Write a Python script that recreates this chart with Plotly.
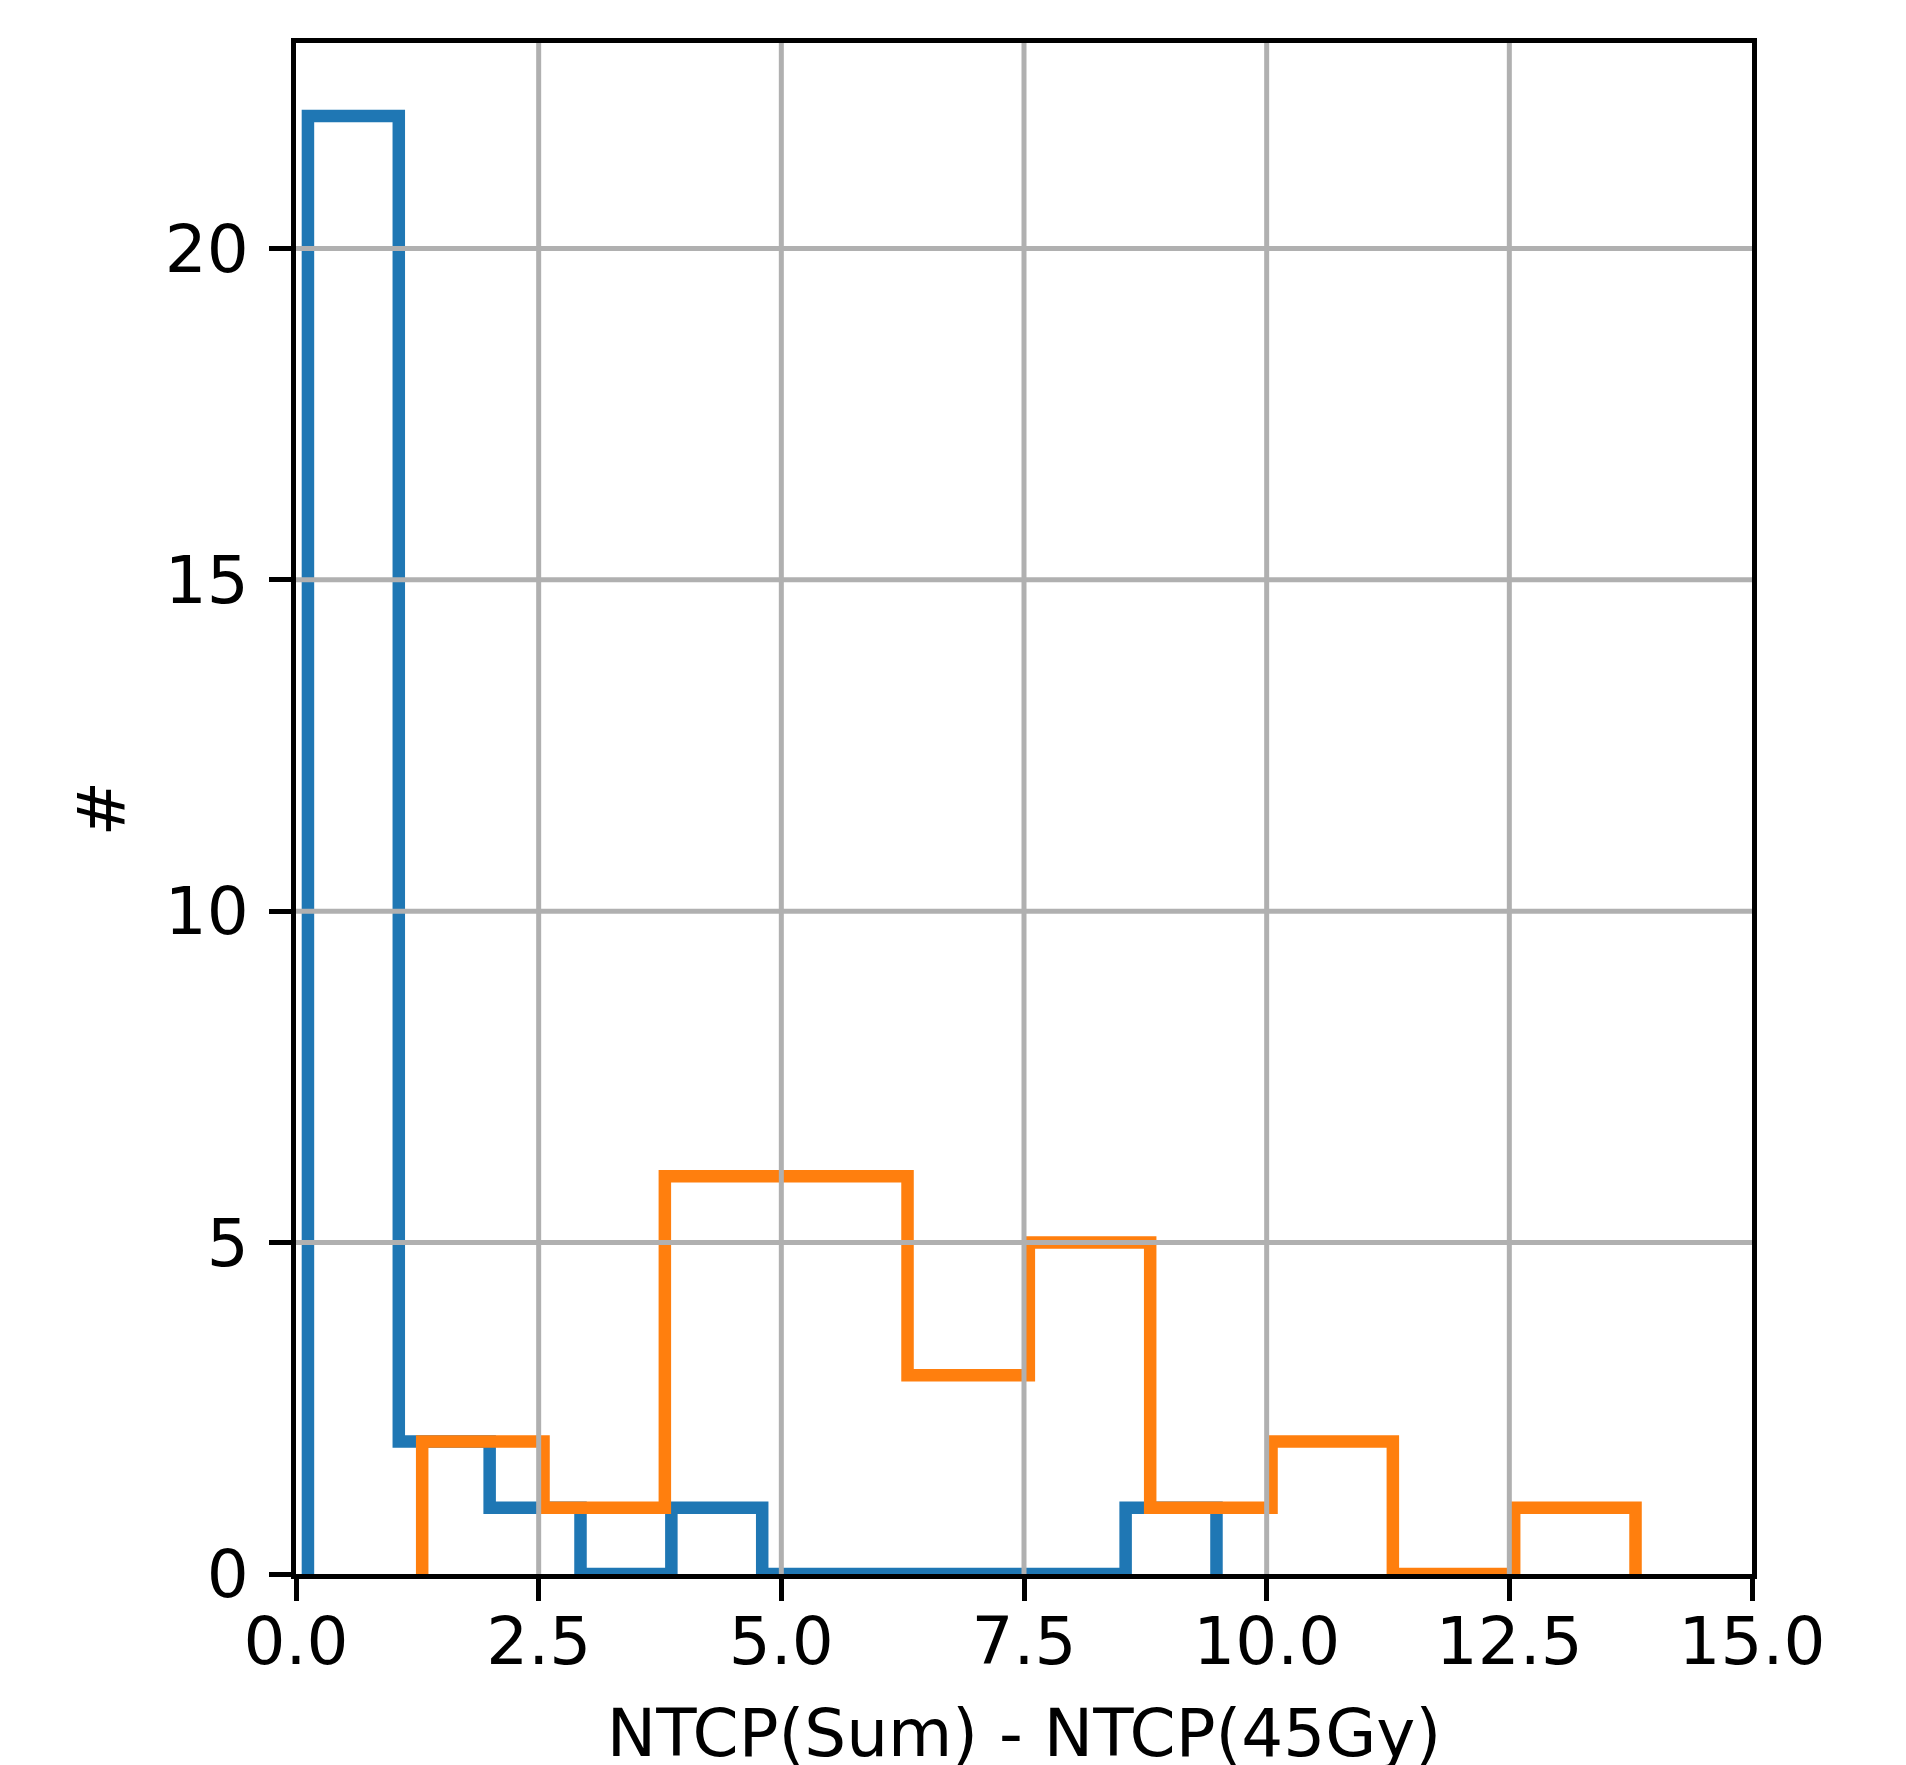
import plotly.graph_objects as go

# Histogram data (step histograms)
blue_edges = [0.123, 1.059, 1.995, 2.931, 3.867, 4.803, 5.739, 6.675, 7.611, 8.547, 9.483]
blue_counts = [22, 2, 1, 0, 1, 0, 0, 0, 0, 1]

orange_edges = [1.30, 2.55, 3.80, 5.05, 6.30, 7.55, 8.80, 10.05, 11.30, 12.55, 13.80]
orange_counts = [2, 1, 6, 6, 3, 5, 1, 2, 0, 1]

x_ticks = [0.0, 2.5, 5.0, 7.5, 10.0, 12.5, 15.0]
x_ticklabels = ["0.0", "2.5", "5.0", "7.5", "10.0", "12.5", "15.0"]
y_ticks = [0, 5, 10, 15, 20]
y_ticklabels = ["0", "5", "10", "15", "20"]

x_range = [0, 15]
y_range = [0, 23.1]

BLUE = "#1f77b4"
ORANGE = "#ff7f0e"
GRID = "#b0b0b0"
FONT = "DejaVu Sans"


def step_xy(edges, counts):
    xs = [edges[0]] + list(edges)
    ys = [0] + list(counts) + [0]
    return xs, ys


fig = go.Figure()
for edges, counts, color in [(blue_edges, blue_counts, BLUE), (orange_edges, orange_counts, ORANGE)]:
    xs, ys = step_xy(edges, counts)
    fig.add_trace(go.Scatter(x=xs, y=ys, mode="lines", line=dict(color=color, width=12.5, shape="hv"),
                             showlegend=False, hoverinfo="skip"))

# grid lines drawn above traces (as in the reference)
shapes = []
for v in x_ticks:
    if x_range[0] < v < x_range[1]:
        shapes.append(dict(type="line", xref="x", yref="paper", x0=v, x1=v, y0=0, y1=1,
                           line=dict(color=GRID, width=5), layer="above"))
for v in y_ticks:
    if y_range[0] < v < y_range[1]:
        shapes.append(dict(type="line", xref="paper", yref="y", x0=0, x1=1, y0=v, y1=v,
                           line=dict(color=GRID, width=5), layer="above"))

fig.update_layout(
    width=1906, height=1765,
    margin=dict(l=288, r=162, t=35, b=199),
    paper_bgcolor="white", plot_bgcolor="white",
    font=dict(family=FONT, size=66, color="black"),
    shapes=shapes,
)
fig.update_xaxes(
    range=x_range, tickmode="array", tickvals=x_ticks, ticktext=x_ticklabels,
    showgrid=False, zeroline=False,
    showline=True, linecolor="black", linewidth=5, mirror=True,
    ticks="outside", ticklen=22, tickwidth=5, tickcolor="black",
    ticklabelstandoff=-16,
    title=dict(text="NTCP(Sum) - NTCP(45Gy)", standoff=32, font=dict(size=66)),
    automargin=False,
)
fig.update_yaxes(
    range=y_range, tickmode="array", tickvals=y_ticks, ticktext=y_ticklabels,
    showgrid=False, zeroline=False,
    showline=True, linecolor="black", linewidth=5, mirror=True,
    ticks="outside", ticklen=22, tickwidth=5, tickcolor="black",
    ticklabelstandoff=7,
    title=dict(text="#", standoff=20, font=dict(size=66)),
    automargin=False,
)

fig.write_html("out.html")
